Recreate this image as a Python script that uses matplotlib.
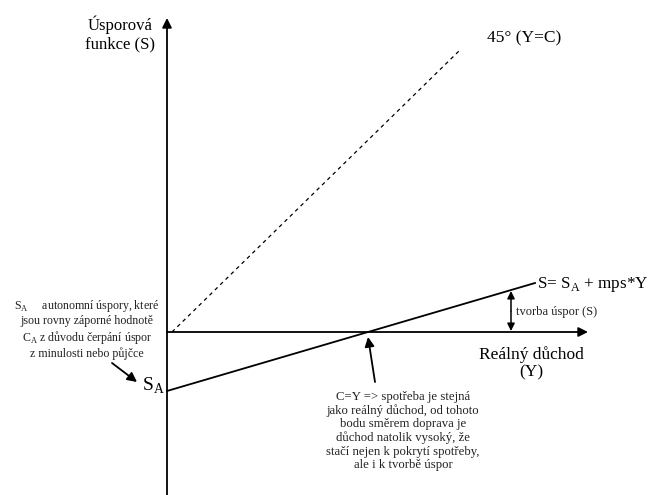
import numpy as np
import matplotlib.pyplot as plt

plt.rcParams['font.family'] = ['Liberation Serif', 'DejaVu Serif']
plt.rcParams['mathtext.fontset'] = 'custom'
plt.rcParams['mathtext.rm'] = 'Liberation Serif'

# model values (origin = axes crossing)
s_a = -59
y_end = 368
s_end = 49
y_axis_range = (-163, 314)
x_axis_end = 421
diag_x = [5, 293]
diag_y = [0, 282]
breakeven_y = -s_a * y_end / (s_end - s_a)

fig = plt.figure(figsize=(6.52, 4.95), dpi=100)
ax = fig.add_axes([0, 0, 1, 1])
ax.set_xlim(-167, 485)
ax.set_ylim(-163, 332)
ax.axis('off')

ap = dict(arrowstyle='-|>', color='black', lw=1.3, mutation_scale=14, shrinkA=0, shrinkB=0)

# axes
ax.annotate('', xy=(0, y_axis_range[1]), xytext=(0, y_axis_range[0]), arrowprops=ap)
ax.annotate('', xy=(x_axis_end, 0), xytext=(0, 0), arrowprops=ap)

# 45 degree line
ax.plot(diag_x, diag_y, color='black', lw=0.9, ls=(0, (3, 3)))

# savings function
ax.plot([0, y_end], [s_a, s_end], color='black', lw=1.3)

# savings creation double arrow
x_s = 344
ax.annotate('', xy=(x_s, 1), xytext=(x_s, 21), arrowprops=dict(ap, lw=1.1, mutation_scale=11))
ax.annotate('', xy=(x_s, 41), xytext=(x_s, 21), arrowprops=dict(ap, lw=1.1, mutation_scale=11))

# pointer arrows
ax.annotate('', xy=(breakeven_y, -5), xytext=(208, -50), arrowprops=ap)
ax.annotate('', xy=(-30, -50), xytext=(-55, -31), arrowprops=ap)

# labels
ax.text(-47, 298, 'Úsporová\nfunkce (S)', ha='center', va='center', fontsize=12, linespacing=1.15)
ax.text(357, 294, '45° (Y=C)', ha='center', va='center', fontsize=12.5)
ax.text(370, 48, r'S= S$_{\mathrm{A}}$ + mps*Y', ha='left', va='center', fontsize=12.3)
ax.text(349, 20, 'tvorba úspor (S)', ha='left', va='center', fontsize=9, color='#222222')
ax.text(364, -31, 'Reálný důchod\n(Y)', ha='center', va='center', fontsize=12.5, linespacing=1.1)
ax.text(-2, -54, r'S$_{\mathrm{A}}$', ha='right', va='center', fontsize=14)

ax.text(-80, 3, 'S$_{\\mathrm{A}}$     autonomní úspory, které\njsou rovny záporné hodnotě\n'
        'C$_{\\mathrm{A}}$ z důvodu čerpání úspor\nz minulosti nebo půjčce',
        ha='center', va='center', fontsize=8.6, linespacing=1.15, color='#222222')

ax.text(236, -99, 'C=Y => spotřeba je stejná\njako reálný důchod, od tohoto\n'
        'bodu směrem doprava je\ndůchod natolik vysoký, že\n'
        'stačí nejen k pokrytí spotřeby,\nale i k tvorbě úspor',
        ha='center', va='center', fontsize=9.2, linespacing=1.14, color='#222222')

fig.savefig('out.png', dpi=100)
